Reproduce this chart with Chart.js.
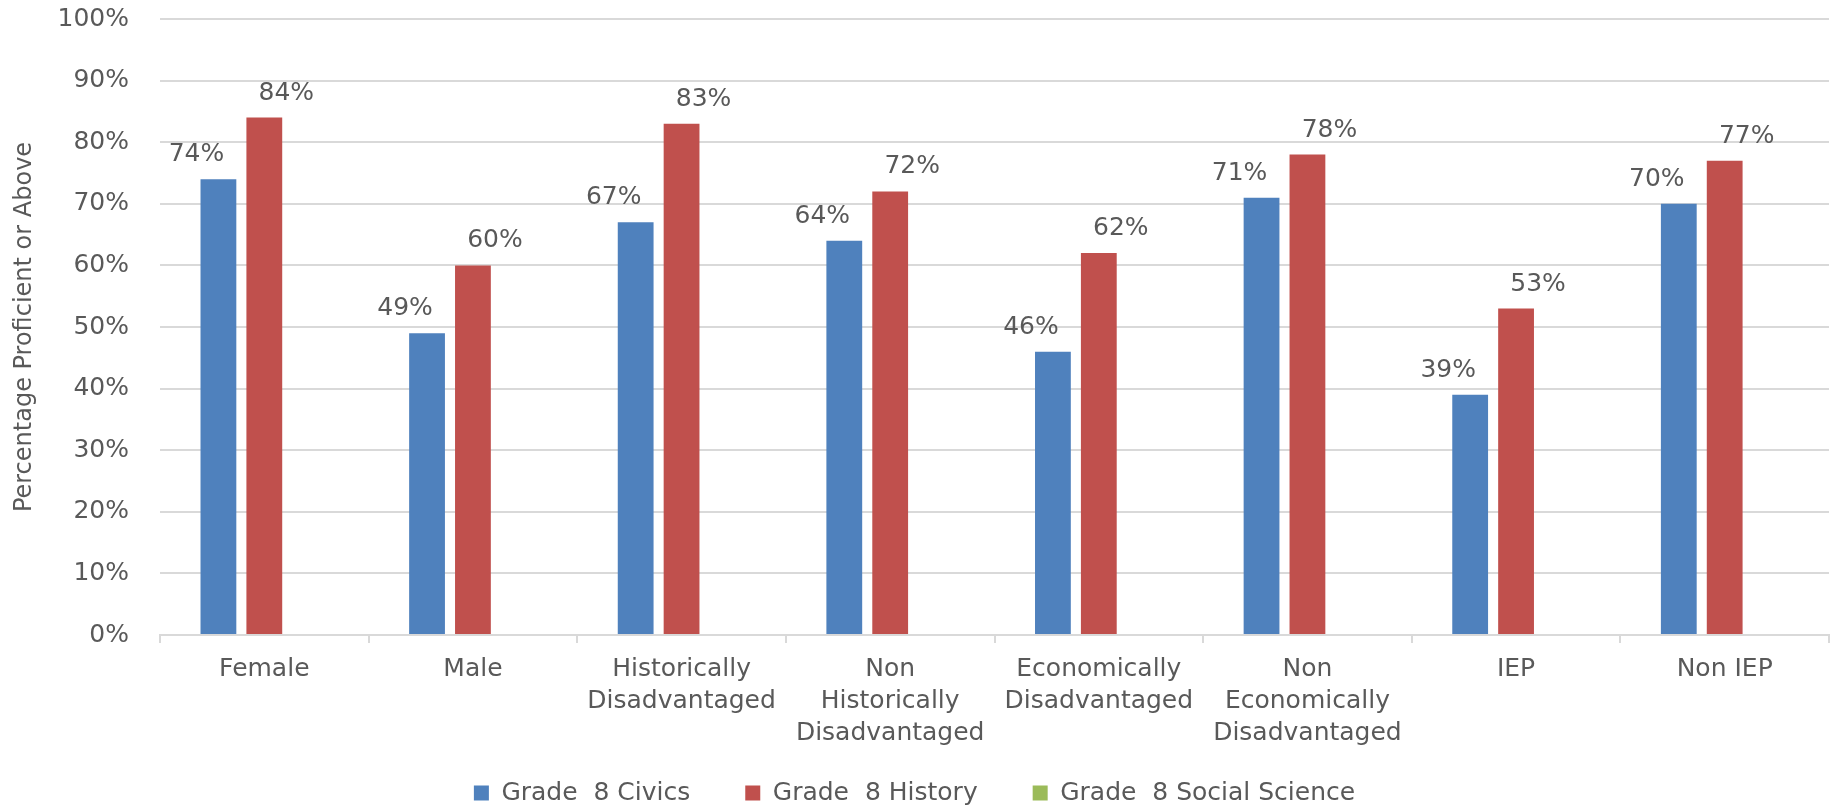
<!DOCTYPE html>
<html>
<head>
<meta charset="utf-8">
<script src="https://cdn.jsdelivr.net/npm/chart.js@4.4.1/dist/chart.umd.min.js"></script>
<style>
  html, body { margin: 0; padding: 0; background: #ffffff; }
  #c { display: block; }
</style>
</head>
<body>
<canvas id="c" width="1831" height="805"></canvas>
<script>
// ---- data ----
const categories = [
  ["Female"],
  ["Male"],
  ["Historically", "Disadvantaged"],
  ["Non", "Historically", "Disadvantaged"],
  ["Economically", "Disadvantaged"],
  ["Non", "Economically", "Disadvantaged"],
  ["IEP"],
  ["Non IEP"]
];
const civics = [74, 49, 67, 64, 46, 71, 39, 70];
const history = [84, 60, 83, 72, 62, 78, 53, 77];
const socialScience = [];
const seriesNames = ["Grade  8 Civics", "Grade  8 History", "Grade  8 Social Science"];
const yTicks = [0, 10, 20, 30, 40, 50, 60, 70, 80, 90, 100];
const yTitle = "Percentage Proficient or Above";

// ---- styles ----
const FONT = '"DejaVu Sans", "Liberation Sans", sans-serif';
const TEXT = '#595959';
const GRID = '#d9d9d9';
const labelShift = [-22, 22, 0];
const LEGEND_TEXT_CENTER = 793;

const barLabels = {
  id: 'barLabels',
  afterDatasetsDraw(chart) {
    const ctx = chart.ctx;
    ctx.save();
    ctx.font = '25px ' + FONT;
    ctx.fillStyle = TEXT;
    ctx.textAlign = 'center';
    ctx.textBaseline = 'alphabetic';
    chart.data.datasets.forEach((ds, di) => {
      const meta = chart.getDatasetMeta(di);
      if (meta.hidden) return;
      meta.data.forEach((bar, i) => {
        const v = ds.data[i];
        if (v === null || v === undefined) return;
        ctx.fillText(v + '%', bar.x + labelShift[di], bar.y - 18);
      });
    });
    ctx.restore();
  }
};

// moves the legend row up so it sits just below the category labels
const legendPlace = {
  id: 'legendPlace',
  afterLayout(chart) {
    const lg = chart.legend;
    if (!lg) return;
    const fs = lg.options.labels.font.size;
    const center = lg.top + lg.options.labels.padding + fs / 2;
    const shift = center - LEGEND_TEXT_CENTER;
    lg.top -= shift;
    lg.bottom -= shift;
  }
};

new Chart(document.getElementById('c'), {
  type: 'bar',
  data: {
    labels: categories,
    datasets: [
      { label: seriesNames[0], data: civics, backgroundColor: '#4f81bd', borderWidth: 0 },
      { label: seriesNames[1], data: history, backgroundColor: '#c0504d', borderWidth: 0 },
      { label: seriesNames[2], data: socialScience, backgroundColor: '#9bbb59', borderWidth: 0 }
    ]
  },
  options: {
    responsive: false,
    animation: false,
    devicePixelRatio: 1,
    categoryPercentage: 0.66,
    barPercentage: 0.78,
    layout: { padding: { top: 19, left: 0, right: 2, bottom: -45 } },
    plugins: {
      tooltip: { enabled: false },
      legend: {
        position: 'bottom',
        align: 'center',
        labels: {
          color: TEXT,
          font: { family: FONT, size: 25 },
          boxWidth: 15,
          boxHeight: 15,
          padding: 55
        }
      }
    },
    scales: {
      x: {
        grid: {
          display: true,
          drawOnChartArea: false,
          drawTicks: true,
          tickLength: 8,
          color: GRID,
          lineWidth: 2,
          offset: true
        },
        border: { display: true, color: GRID, width: 2 },
        ticks: {
          color: TEXT,
          font: { family: FONT, size: 25, lineHeight: 1.27 },
          padding: 11,
          maxRotation: 0,
          minRotation: 0,
          autoSkip: false
        },
        afterFit(scale) { scale.height = 125; }
      },
      y: {
        min: 0,
        max: 100,
        afterBuildTicks(scale) { scale.ticks = yTicks.map(v => ({ value: v })); },
        grid: { color: GRID, lineWidth: 2, drawTicks: true, tickLength: 31, tickColor: 'rgba(0,0,0,0)' },
        border: { display: false },
        ticks: {
          color: TEXT,
          font: { family: FONT, size: 25 },
          padding: 0,
          callback: (v) => v + '%'
        },
        title: {
          display: true,
          text: yTitle,
          color: TEXT,
          font: { family: FONT, size: 24 },
          padding: { top: 10, bottom: 0 }
        },
        afterFit(scale) { scale.width = 160; }
      }
    }
  },
  plugins: [barLabels, legendPlace]
});
</script>
</body>
</html>
